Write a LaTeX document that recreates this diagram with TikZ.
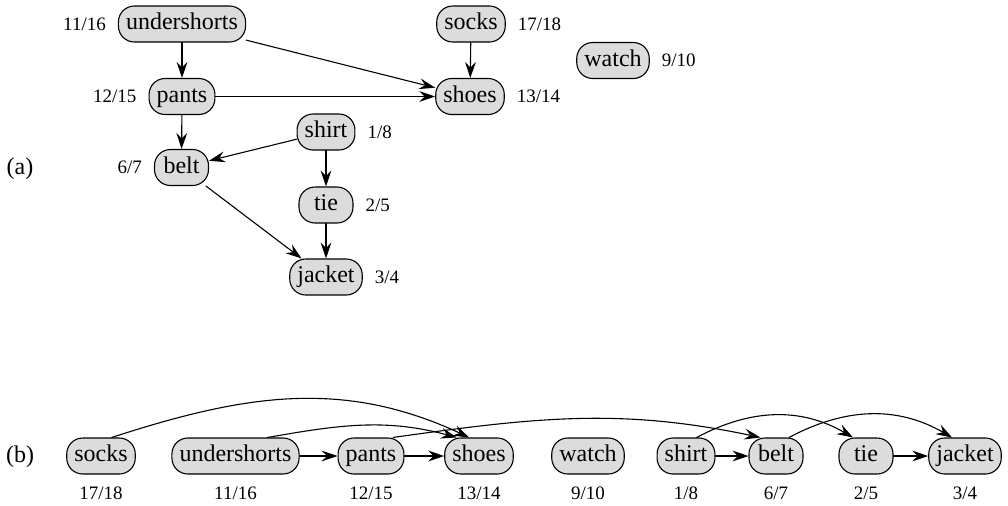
\documentclass[tikz,border=0pt]{standalone}
\usepackage{fontspec}
\setmainfont{Liberation Serif}
\usetikzlibrary{arrows.meta}
\definecolor{GarmentGray}{HTML}{DCDCDC}

\begin{document}
\begin{tikzpicture}[
  x=0.5pt, y=0.5pt,
  line cap=round, line join=round,
  >={Stealth[length=8pt,width=5.4pt,inset=2.8pt]},
  label distance=2.5pt,
  garment/.style={draw, fill=GarmentGray, line width=0.55pt, rounded corners=8pt,
    minimum height=18pt, minimum width=27pt, inner xsep=3.8pt, inner ysep=0pt,
    text height=8.2pt, text depth=2.6pt,
    font=\rmfamily\fontsize{12}{14}\selectfont},
  stamp/.style={font=\rmfamily\fontsize{9.5}{11}\selectfont},
  stampleft/.style={label={[stamp]left:#1}},
  stampright/.style={label={[stamp]right:#1}},
  stampbelow/.style={label={[stamp]below:#1}},
  order/.style={->, line width=0.55pt}
]

\useasboundingbox (0,0) rectangle (1008,-505);

% === (a) the dressing graph with discovery/finish times ===
\node[font=\rmfamily\fontsize{12}{14}\selectfont] (tagA) at (20,-169) {(a)};

\node[garment, stampleft=11/16]  (ushortsA) at (182,-24)    {undershorts};
\node[garment, stampleft=12/15]  (pantsA)   at (182,-96.5)  {pants};
\node[garment, stampleft=6/7]    (beltA)    at (181.5,-167.5) {belt};
\node[garment, stampright=1/8]   (shirtA)   at (326,-132)   {shirt};
\node[garment, stampright=2/5]   (tieA)     at (326,-205)   {tie};
\node[garment, stampright=3/4]   (jacketA)  at (326,-277)   {jacket};
\node[garment, stampright=17/18] (socksA)   at (471,-24)    {socks};
\node[garment, stampright=13/14] (shoesA)   at (470,-96.5)  {shoes};
\node[garment, stampright=9/10]  (watchA)   at (613,-60.5)  {watch};

\draw[order] (ushortsA) -- (pantsA);
\draw[order] (ushortsA) -- (shoesA);
\draw[order] (pantsA) -- (shoesA);
\draw[order] (socksA) -- (shoesA);
\draw[order] (pantsA) -- (beltA);
\draw[order] (shirtA) -- (beltA);
\draw[order] (shirtA) -- (tieA);
\draw[order] (tieA) -- (jacketA);
\draw[order] (beltA) -- (jacketA);

% === (b) topologically sorted row ===
\node[font=\rmfamily\fontsize{12}{14}\selectfont] (tagB) at (20,-457) {(b)};

\foreach \nm/\x/\d/\f in {
  socks/101/17/18,
  undershorts/235.5/11/16,
  pants/371/12/15,
  shoes/479/13/14,
  watch/588/9/10,
  shirt/686/1/8,
  belt/776/6/7,
  tie/866/2/5,
  jacket/965/3/4%
}{
  \node[garment, stampbelow=\d/\f] (\nm B) at (\x,-456) {\nm};
}

% straight edges between neighbours
\draw[order] (undershortsB) -- (pantsB);
\draw[order] (pantsB) -- (shoesB);
\draw[order] (shirtB) -- (beltB);
\draw[order] (tieB) -- (jacketB);

% arcs over the row
\draw[order] (socksB.60) to[out=18,in=155] (shoesB.118);
\draw[order] (undershortsB.30) to[out=10,in=165] (shoesB.140);
\draw[order] (pantsB.40) to[out=8,in=168] (beltB.130);
\draw[order] (shirtB.60) to[out=28,in=150] (tieB.125);
\draw[order] (beltB.55) to[out=28,in=150] (jacketB.125);

\end{tikzpicture}
\end{document}
